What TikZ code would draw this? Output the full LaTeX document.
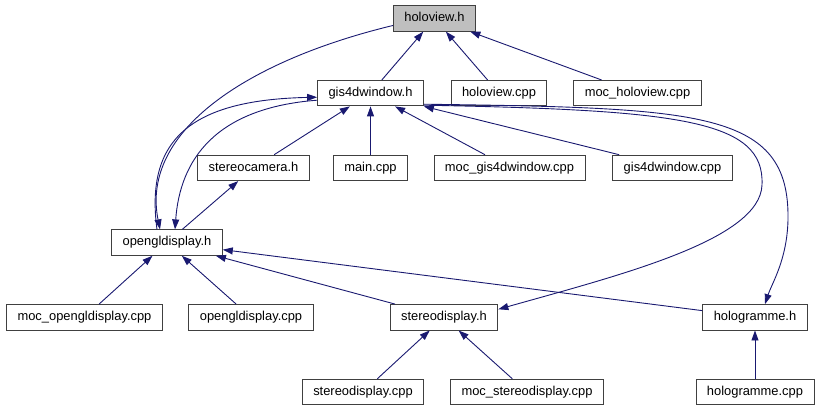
\documentclass[tikz,border=0pt]{standalone}
\usepackage{fontspec}
\setmainfont{Liberation Sans}
\usetikzlibrary{arrows.meta}
\definecolor{linkblue}{HTML}{191970}
\definecolor{boxgray}{HTML}{404040}
\tikzset{file/.style={draw=boxgray,fill=white,line width=0.9pt,inner xsep=11pt,inner ysep=0pt,
    text height=9.5pt,text depth=2.7pt,minimum height=25.5pt,font=\fontsize{12.9}{15}\selectfont},
  top/.style={file,fill=black!25},
  link/.style={<-,draw=linkblue,line width=0.9pt}}

\begin{document}
\begin{tikzpicture}[x=1pt,y=-1pt,>={Triangle[length=10pt,width=7pt]},node distance=74.7pt]

    \useasboundingbox (0,0) rectangle (820,411);

    \draw (434.5,18.5) node[top] (holoview) {holoview.h};

    \node[file,below of=holoview,xshift=-64pt] (gisw) {gis4dwindow.h};
    \draw[link] (holoview) -- (gisw);

    \node[file,below of=holoview,xshift=64.5pt] (holocpp) {holoview.cpp};
    \draw[link] (holoview) -- (holocpp);

    \node[file,below of=holoview,xshift=203pt] (mocholo) {moc\_holoview.cpp};
    \draw[link] (holoview) -- (mocholo);

    \node[file,below of=gisw,xshift=-117pt] (stcam) {stereocamera.h};
    \draw[link] (gisw) -- (stcam);

    \node[file,below of=gisw] (maincpp) {main.cpp};
    \draw[link] (gisw) -- (maincpp);

    \node[file,below of=gisw,xshift=139pt] (mocgisw) {moc\_gis4dwindow.cpp};
    \draw[link] (gisw) -- (mocgisw);

    \node[file,below of=gisw,xshift=302pt] (giswcpp) {gis4dwindow.cpp};
    \draw[link] (gisw) -- (giswcpp);

    \node[file,below of=stcam,xshift=-86.5pt] (ogl) {opengldisplay.h};
    \draw[link] (stcam) -- (ogl);
    \draw[link] ([xshift=-7pt]ogl.north) .. controls (140,130) and (250,60) .. ([yshift=-7pt]holoview.west);
    \draw[link] ([yshift=-4pt]gisw.west) .. controls (190,100) and (145,140) .. ([xshift=-10pt]ogl.north);
    \draw[link] ([xshift=8pt]ogl.north) .. controls (180,160) and (215,108) .. ([yshift=-7pt]gisw.west);

    \node[file,below of=ogl,xshift=-82.5pt] (mocogl) {moc\_opengldisplay.cpp};
    \draw[link] (ogl) -- (mocogl);

    \node[file,below of=ogl,xshift=84pt] (oglcpp) {opengldisplay.cpp};
    \draw[link] (ogl) -- (oglcpp);

    \node[file,below of=ogl,xshift=277pt] (stdisp) {stereodisplay.h};
    \draw[link] (ogl) -- (stdisp);
    \draw[link] ([yshift=8pt]stdisp.east) .. controls (620,275) and (760,240) .. (762,185)
        .. controls (765,120) and (680,110) .. ([yshift=-12pt]gisw.east);

    \node[file,below of=ogl,xshift=588pt] (holog) {hologramme.h};
    \draw[link] (ogl) -- (holog);
    \draw[link] ([xshift=10pt]holog.north) .. controls (772,283) and (787,260) .. (788,220)
        .. controls (790,110) and (700,108) .. ([yshift=-11pt]gisw.east);

    \node[file,below of=stdisp,xshift=-81pt] (stdispcpp) {stereodisplay.cpp};
    \draw[link] (stdisp) -- (stdispcpp);

    \node[file,below of=stdisp,xshift=83pt] (mocstdisp) {moc\_stereodisplay.cpp};
    \draw[link] (stdisp) -- (mocstdisp);

    \node[file,below of=holog] (hologcpp) {hologramme.cpp};
    \draw[link] (holog) -- (hologcpp);

\end{tikzpicture}
\end{document}
